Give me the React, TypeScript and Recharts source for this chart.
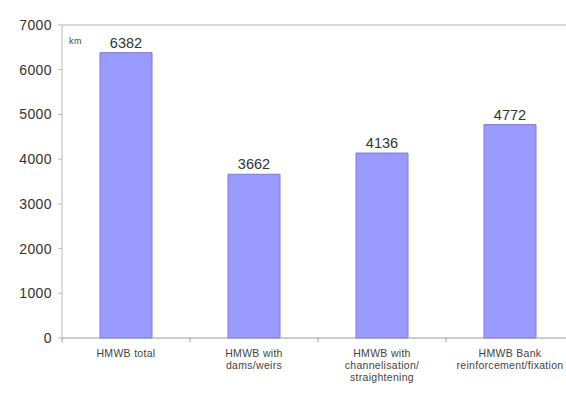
import { BarChart, Bar, XAxis, YAxis, LabelList, ReferenceLine } from "recharts";

const categories = [
  ["HMWB total"],
  ["HMWB with", "dams/weirs"],
  ["HMWB with", "channelisation/", "straightening"],
  ["HMWB Bank", "reinforcement/fixation"],
];
const lengths = [6382, 3662, 4136, 4772];
const yTicks = [0, 1000, 2000, 3000, 4000, 5000, 6000, 7000];

const data = categories.map((lines, i) => ({ name: lines.join("\n"), km: lengths[i] }));

const CHART_W = 580;
const CHART_H = 394;
const LEFT = 62;
const RIGHT = 6;
const BAND = (CHART_W - LEFT - RIGHT) / categories.length;
const FONT = "Arial, Liberation Sans, sans-serif";

const CategoryTick = (props: any) => {
  const { x, y, payload, index } = props;
  const lines = String(payload.value).split("\n");
  return (
    <g>
      <line x1={x - BAND / 2} y1={y - 8} x2={x - BAND / 2} y2={y - 4} stroke="#999" />
      {index === categories.length - 1 && (
        <line x1={x + BAND / 2} y1={y - 8} x2={x + BAND / 2} y2={y - 4} stroke="#999" />
      )}
      <text x={x} y={y + 11} textAnchor="middle" fontSize={10.5} letterSpacing={0.3} fill="#444" fontFamily={FONT}>
        {lines.map((l, i) => (
          <tspan key={i} x={x} dy={i === 0 ? 0 : 12}>
            {l}
          </tspan>
        ))}
      </text>
    </g>
  );
};

export default function App() {
  return (
    <div
      style={{
        position: "absolute",
        left: 0,
        top: 0,
        width: 566,
        height: 394,
        overflow: "hidden",
        background: "#fff",
      }}
    >
      <BarChart
        width={CHART_W}
        height={CHART_H}
        data={data}
        margin={{ top: 25, right: RIGHT, left: 0, bottom: 0 }}
        barCategoryGap={38}
      >
        <XAxis
          dataKey="name"
          height={56}
          interval={0}
          tickLine={false}
          axisLine={{ stroke: "#999" }}
          tick={<CategoryTick />}
        />
        <YAxis
          width={LEFT}
          domain={[0, 7000]}
          ticks={yTicks}
          interval={0}
          tickSize={4}
          tickMargin={6}
          axisLine={{ stroke: "#bbb" }}
          tickLine={{ stroke: "#bbb" }}
          tick={{ fill: "#333", fontSize: 14, letterSpacing: 0.4, fontFamily: FONT }}
        />
        <ReferenceLine y={7000} stroke="#ccc" strokeWidth={1.5} />
        <Bar dataKey="km" fill="#9999FF" stroke="#7c7cd0" strokeWidth={1} isAnimationActive={false}>
          <LabelList
            dataKey="km"
            position="top"
            offset={5}
            fill="#333"
            fontSize={14.5}
            fontFamily={FONT}
          />
        </Bar>
        <text x={69} y={44} fontSize={9} letterSpacing={0.5} fill="#444" fontFamily={FONT}>
          km
        </text>
      </BarChart>
    </div>
  );
}
